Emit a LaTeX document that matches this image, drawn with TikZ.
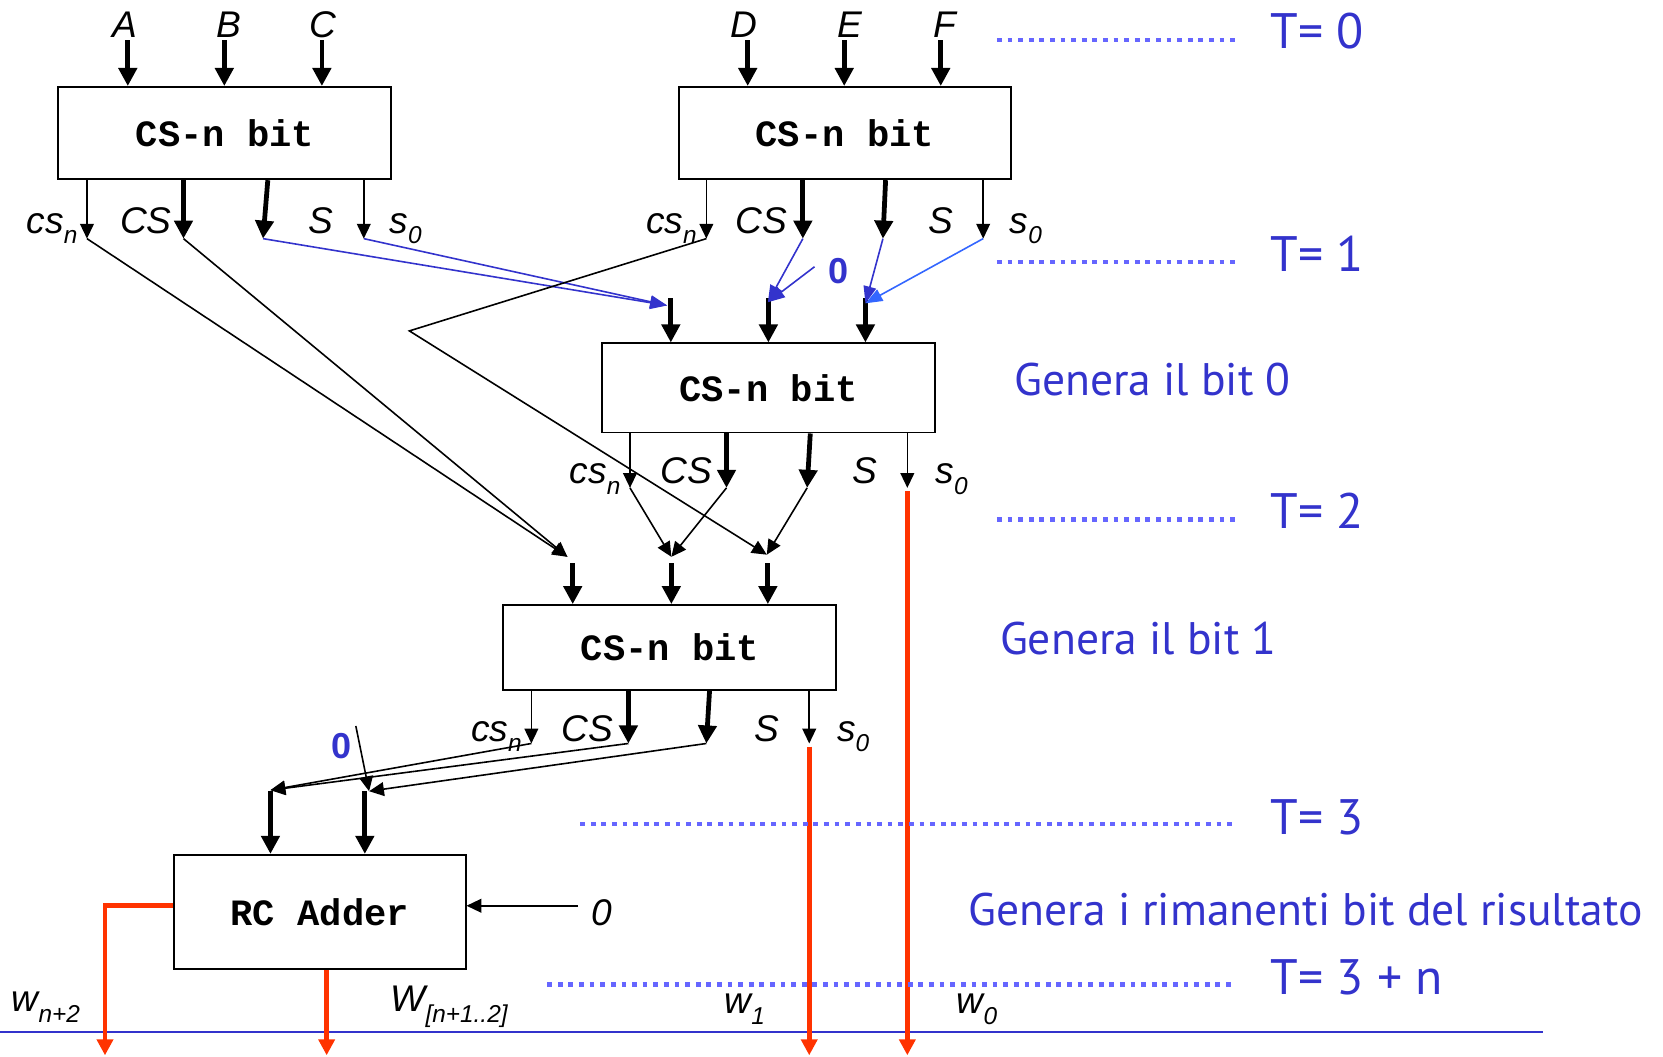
\documentclass[tikz,border=0pt]{standalone}
\usepackage{fontspec}
\setmainfont{Liberation Sans}
\newfontfamily\monofam{Liberation Mono}
\newfontfamily\ptfam{PT Sans}
\usetikzlibrary{arrows.meta,calc}
\definecolor{tblue}{RGB}{51,51,204}
\definecolor{dotblue}{RGB}{102,102,255}
\definecolor{lblue}{RGB}{51,102,255}
\definecolor{redw}{RGB}{255,51,0}
\newcommand\sbs[1]{\raisebox{-10pt}{\fontsize{23}{23}\selectfont #1}}
\begin{document}
\begin{tikzpicture}[x=1pt,y=-1pt,
  box/.style={draw, line width=1.8pt, inner sep=0pt, minimum width=314pt, minimum height=86pt, font=\monofam\bfseries\fontsize{35}{40}\selectfont},
  lab/.style={inner sep=0pt, font=\itshape\fontsize{35}{40}\selectfont},
  note/.style={inner sep=0pt, text=tblue, font=\ptfam\fontsize{43}{50}\selectfont},
  tlab/.style={inner sep=0pt, text=tblue, font=\ptfam\fontsize{47}{52}\selectfont},
  zero/.style={inner sep=0pt, text=tblue, font=\bfseries\fontsize{34}{38}\selectfont},
  thk/.style={line width=4.5pt, -{Triangle[length=17pt,width=17pt]}},
  thn/.style={line width=1.5pt, -{Triangle[length=14pt,width=13pt]}},
  bl/.style={tblue, line width=1.5pt, -{Triangle[length=16pt,width=12pt]}},
  redl/.style={redw, line width=4.5pt, -{Triangle[length=15pt,width=15pt]}},
  dots/.style={dotblue, line width=4.5pt, dash pattern=on 4.5pt off 5.5pt}]
\useasboundingbox (0,0) rectangle (1568,996);

% boxes
\node[box, minimum height=87pt] (b1) at (212,125.5) {CS-n bit};
\node[box, minimum width=313pt, minimum height=87pt] (b2) at (796.5,125.5) {CS-n bit};
\node[box, minimum height=84pt] (b3) at (724.6,365.8) {CS-n bit};
\node[box, minimum height=80pt] (b4) at (631.6,610.5) {CS-n bit};
\node[box, minimum width=275pt, minimum height=108pt] (rc) at (301.5,860) {RC Adder};

% inputs
\node[lab, anchor=base] (lA) at (118,35) {A};
\node[lab, anchor=base] (lB) at (216,35) {B};
\node[lab, anchor=base] (lC) at (304,35) {C};
\node[lab, anchor=base] (lD) at (701,35) {D};
\node[lab, anchor=base] (lE) at (801,35) {E};
\node[lab, anchor=base] (lF) at (891,35) {F};
\coordinate (iA) at (120.5,38); \coordinate (iB) at (211.5,38); \coordinate (iC) at (303.5,38);
\coordinate (iD) at (705,38); \coordinate (iE) at (796,38); \coordinate (iF) at (887,38);
\draw[thk] (iA) -- (iA |- b1.north);
\draw[thk] (iB) -- (iB |- b1.north);
\draw[thk] (iC) -- (iC |- b1.north);
\draw[thk] (iD) -- (iD |- b2.north);
\draw[thk] (iE) -- (iE |- b2.north);
\draw[thk] (iF) -- (iF |- b2.north);

% outputs box1
\coordinate (o11) at (82,225); \coordinate (o12) at (173,225); \coordinate (o13) at (248,225); \coordinate (o14) at (343,225);
\coordinate (p13) at (252.5,0);
\draw[thn] (b1.south -| o11) -- (o11);
\draw[thk] (b1.south -| o12) -- (o12);
\draw[thk] (b1.south -| p13) -- (o13);
\draw[thn] (b1.south -| o14) -- (o14);
% outputs box2
\coordinate (o21) at (666,225); \coordinate (o22) at (757,225); \coordinate (o23) at (832.5,225); \coordinate (o24) at (927,225);
\coordinate (p23) at (835,0);
\draw[thn] (b2.south -| o21) -- (o21);
\draw[thk] (b2.south -| o22) -- (o22);
\draw[thk] (b2.south -| p23) -- (o23);
\draw[thn] (b2.south -| o24) -- (o24);
% outputs box3
\coordinate (o31) at (594,460); \coordinate (o32) at (685,460); \coordinate (o33) at (761,460); \coordinate (o34) at (855.5,460);
\coordinate (p33) at (764,0);
\draw[thn] (b3.south -| o31) -- (o31);
\draw[thk] (b3.south -| o32) -- (o32);
\draw[thk] (b3.south -| p33) -- (o33);
\draw[thn] (b3.south -| o34) -- (o34);
% outputs box4
\coordinate (o41) at (501,701); \coordinate (o42) at (592.5,701); \coordinate (o43) at (666,701); \coordinate (o44) at (763,701);
\coordinate (p43) at (669,0);
\draw[thn] (b4.south -| o41) -- (o41);
\draw[thk] (b4.south -| o42) -- (o42);
\draw[thk] (b4.south -| p43) -- (o43);
\draw[thn] (b4.south -| o44) -- (o44);

% input stubs
\coordinate (s31) at (632.5,281); \coordinate (s32) at (724.5,281); \coordinate (s33) at (816,281);
\draw[thk] (s31) -- (s31 |- b3.north);
\draw[thk] (s32) -- (s32 |- b3.north);
\draw[thk] (s33) -- (s33 |- b3.north);
\coordinate (s41) at (540,531); \coordinate (s42) at (633,531); \coordinate (s43) at (724,531);
\draw[thk] (s41) -- (s41 |- b4.north);
\draw[thk] (s42) -- (s42 |- b4.north);
\draw[thk] (s43) -- (s43 |- b4.north);
\coordinate (sL) at (255,746); \coordinate (sR) at (344,746);
\draw[thk] (sL) -- (sL |- rc.north);
\draw[thk] (sR) -- (sR |- rc.north);

% tips
\coordinate (t31) at (629,288); \coordinate (t32) at (724,285); \coordinate (t33) at (816,286);
\coordinate (t41) at (535,525); \coordinate (t42) at (633,525); \coordinate (t43) at (723,523);
\coordinate (tL) at (255,745); \coordinate (tR) at (348,746);

% connectors level 1 -> 3
\draw[bl] (o13) -- (t31);
\draw[bl] (o14) -- (t31);
\draw[bl] (o22) -- (t32);
\node[zero] (z1) at (791,256) {0};
\coordinate (z1c) at (768,251.5);
\draw[bl] (z1c) -- (t32);
\draw[bl] (o23) -- (t33);
\draw[bl, lblue] (o24) -- (t33);
% level -> 4
\coordinate (bend) at (386,312);
\draw[thn] (o21) -- (bend) -- (t43);
\draw[thn] (o11) -- (t41);
\draw[thn] (o12) -- (t41);
\draw[thn] (o31) -- (t42);
\draw[thn] (o32) -- (t42);
\draw[thn] (o33) -- (t43);
% level -> RC
\draw[thn] (o41) -- (tL);
\draw[thn] (o42) -- (tL);
\draw[thn] (o43) -- (tR);
\node[zero] (z2) at (322,703) {0};
\coordinate (z2c) at (335.5,684.5);
\draw[thn] (z2c) -- (tR);
\coordinate (zin) at (545,854);
\draw[thn] (zin) -- (zin -| rc.east);
\node[lab] (z3) at (567,861) {0};

% baseline
\coordinate (bl0) at (0,973); \coordinate (bl1) at (1455,973);
\draw[tblue, line width=2pt] (bl0) -- (bl1);

% red outputs
\coordinate (bot) at (0,995);
\coordinate (rl) at (99,854);
\coordinate (rb) at (308,0);
\draw[redl] ($(o34)+(0,3)$) -- (o34 |- bot);
\draw[redl] ($(o44)+(0,3)$) -- (o44 |- bot);
\draw[redl] (rc.west |- rl) -- (rl) -- (rl |- bot);
\draw[redl] (rc.south -| rb) -- (rb |- bot);

% dotted time lines
\coordinate (d0a) at (940,37.7); \coordinate (d0b) at (1165,37.7);
\coordinate (d1a) at (940,247); \coordinate (d1b) at (1165,247);
\coordinate (d2a) at (940,490); \coordinate (d2b) at (1165,490);
\coordinate (d3a) at (547,777); \coordinate (d3b) at (1165,777);
\coordinate (d4a) at (516,928); \coordinate (d4b) at (1165,928);
\draw[dots] (d0a) -- (d0b);
\draw[dots] (d1a) -- (d1b);
\draw[dots] (d2a) -- (d2b);
\draw[dots] (d3a) -- (d3b);
\draw[dots] (d4a) -- (d4b);

% time labels
\node[tlab, anchor=base west] (T0) at (1198,45.6) {T= 0};
\node[tlab, anchor=base west] (T1) at (1198,256) {T= 1};
\node[tlab, anchor=base west] (T2) at (1198,498) {T= 2};
\node[tlab, anchor=base west] (T3) at (1198,787) {T= 3};
\node[tlab, anchor=base west] (T4) at (1198,938) {T= 3 + n};
\node[note, anchor=base west] (g0) at (956,373) {Genera il bit 0};
\node[note, anchor=base west] (g1) at (942.7,617) {Genera il bit 1};
\node[note, anchor=base west] (g2) at (913,873) {Genera i rimanenti bit del risultato};

% output labels
\node[lab, anchor=base west] (a1) at (25,220) {cs\sbs{n}};
\node[lab, anchor=base west] (a2) at (113,220) {CS};
\node[lab, anchor=base west] (a3) at (291,220) {S};
\node[lab, anchor=base west] (a4) at (367,220) {s\sbs{0}};
\node[lab, anchor=base west] (e1) at (609,220) {cs\sbs{n}};
\node[lab, anchor=base west] (e2) at (693,220) {CS};
\node[lab, anchor=base west] (e3) at (875,220) {S};
\node[lab, anchor=base west] (e4) at (952,220) {s\sbs{0}};
\node[lab, anchor=base west] (f1) at (537,456) {cs\sbs{n}};
\node[lab, anchor=base west] (f2) at (623,456) {CS};
\node[lab, anchor=base west] (f3) at (804,456) {S};
\node[lab, anchor=base west] (f4) at (882,456) {s\sbs{0}};
\node[lab, anchor=base west] (h1) at (444,699) {cs\sbs{n}};
\node[lab, anchor=base west] (h2) at (529,699) {CS};
\node[lab, anchor=base west] (h3) at (711,699) {S};
\node[lab, anchor=base west] (h4) at (789,699) {s\sbs{0}};
\node[lab, anchor=base west] (w1) at (11,954) {w\sbs{n+2}};
\node[lab, anchor=base west] (w2) at (368,954) {W\sbs{[n+1..2]}};
\node[lab, anchor=base west] (w3) at (683,956) {w\sbs{1}};
\node[lab, anchor=base west] (w4) at (902,956) {w\sbs{0}};
\end{tikzpicture}
\end{document}
